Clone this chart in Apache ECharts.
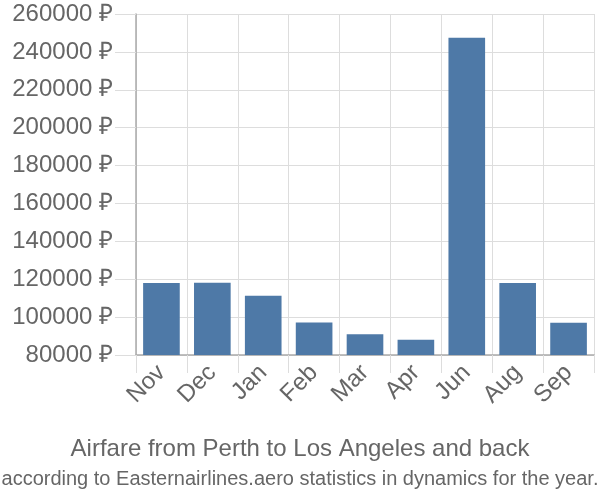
<!DOCTYPE html>
<html><head><meta charset="utf-8">
<script src="https://cdn.jsdelivr.net/npm/echarts@6/dist/echarts.min.js"></script>
<style>html,body{margin:0;padding:0;background:#fff}#c{width:600px;height:500px}</style>
</head><body><div id="c"></div>
<script>
const categories = ['Nov','Dec','Jan','Feb','Mar','Apr','Jun','Aug','Sep'];
const prices = [118000, 118200, 111300, 97100, 91000, 88000, 247500, 118000, 97000];
const yMin = 80000, yMax = 260000, yStep = 20000;
const titleText = 'Airfare from Perth to Los Angeles and back';
const subtitleText = 'according to Easternairlines.aero statistics in dynamics for the year.';

const chart = echarts.init(document.getElementById('c'));
chart.setOption({
  animation: false,
  textStyle: {fontFamily: 'Liberation Sans'},
  title: [
    {text: titleText, left: 'center', top: 432, textStyle: {fontSize: 24, fontWeight: 'normal', color: '#666', fontFamily: 'Liberation Sans'}},
    {text: subtitleText, left: 'center', top: 464, textStyle: {fontSize: 20, fontWeight: 'normal', color: '#666', fontFamily: 'Liberation Sans'}}
  ],
  grid: {left: 136, right: 6, top: 14, bottom: 145, containLabel: false},
  xAxis: {
    type: 'category', data: categories, boundaryGap: true,
    axisLine: {lineStyle: {color: '#aaa', width: 1.5}},
    axisTick: {show: true, length: 18, lineStyle: {color: '#ddd'}},
    splitLine: {show: true, lineStyle: {color: '#ddd'}},
    axisLabel: {rotate: 45, fontSize: 24, color: '#666', margin: 14}
  },
  yAxis: {
    type: 'value', min: yMin, max: yMax, interval: yStep,
    axisLine: {show: true, lineStyle: {color: '#aaa', width: 1.5}},
    axisTick: {show: true, length: 21, lineStyle: {color: '#ddd'}},
    splitLine: {show: true, lineStyle: {color: '#ddd'}},
    axisLabel: {fontSize: 24, color: '#666', margin: 23, formatter: v => v + ' ₽'}
  },
  series: [{
    type: 'bar', data: prices, barCategoryGap: '28%',
    itemStyle: {color: '#4e79a7'}
  }]
});
</script></body></html>
